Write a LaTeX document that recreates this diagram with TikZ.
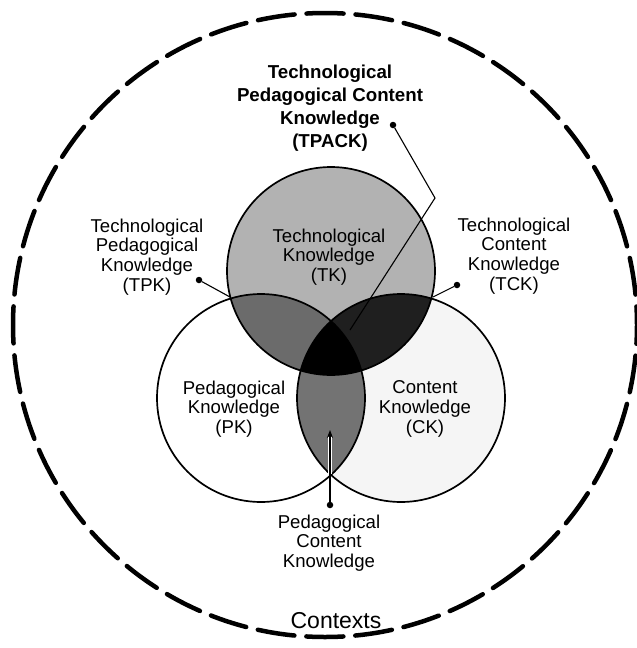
\documentclass[tikz,border=0pt]{standalone}
\usepackage{fontspec}
\setmainfont{Liberation Sans}
\usetikzlibrary{arrows.meta}
\tikzset{
  lbl/.style={align=center, inner sep=0pt, font=\fontsize{18.6}{19.8}\selectfont},
  ttl/.style={align=center, inner sep=0pt, font=\fontsize{18.7}{23}\selectfont\bfseries},
  ctx/.style={inner sep=0pt, font=\fontsize{23}{26}\selectfont},
  pin/.style={circle, fill=black, inner sep=0pt, minimum size=6.5pt},
  ring/.style={draw=black, line width=1.7pt},
  lead/.style={draw=black, line width=1.1pt},
  tkfill/.style={fill=black!30},
  ckfill/.style={fill=black!4},
  tpkfill/.style={fill=black!58},
  tckfill/.style={fill=black!88},
  pckfill/.style={fill=black!55},
}
\begin{document}
\begin{tikzpicture}[x=1pt,y=-1pt]
\useasboundingbox (0,0) rectangle (637,648);
\fill[white] (0,0) rectangle (637,648);
\coordinate (oc) at (325,325);
\coordinate (tk) at (331,271);
\coordinate (pk) at (261,398);
\coordinate (ck) at (401,398);
\def\R{104pt}
% outer contexts circle
\draw[line width=4.5pt, dash pattern=on 37pt off 12.01pt, dash phase=18.5pt, line cap=round] (oc) circle[radius=312pt];
% fills
\fill[tkfill] (tk) circle[radius=\R];
\fill[ckfill] (ck) circle[radius=\R];
\begin{scope}\clip (tk) circle[radius=\R]; \fill[tpkfill] (pk) circle[radius=\R]; \end{scope}
\begin{scope}\clip (tk) circle[radius=\R]; \fill[tckfill] (ck) circle[radius=\R]; \end{scope}
\begin{scope}\clip (pk) circle[radius=\R]; \fill[pckfill] (ck) circle[radius=\R]; \end{scope}
\begin{scope}\clip (tk) circle[radius=\R]; \clip (pk) circle[radius=\R]; \fill[black] (ck) circle[radius=\R]; \end{scope}
% outlines
\draw[ring] (tk) circle[radius=\R];
\draw[ring] (pk) circle[radius=\R];
\draw[ring] (ck) circle[radius=\R];
% labels
\node[ttl] (tpack) at (330,108) {Technological\\Pedagogical Content\\Knowledge\\(TPACK)};
\node[lbl] (tpk) at (147,257) {Technological\\Pedagogical\\Knowledge\\(TPK)};
\node[lbl] (tck) at (514,256) {Technological\\Content\\Knowledge\\(TCK)};
\node[lbl] (tkl) at (329,257) {Technological\\Knowledge\\(TK)};
\node[lbl] (pkl) at (234,409) {Pedagogical\\Knowledge\\(PK)};
\node[lbl] (ckl) at (425,409) {Content\\Knowledge\\(CK)};
\node[lbl] (pck) at (329,543) {Pedagogical\\Content\\Knowledge};
\node[ctx] (ctxl) at (336,621) {Contexts};
% pins and connectors
\node[pin] (tpackdot) at (393,125) {};
\coordinate (tpackbend) at (435,198);
\coordinate (tpackend) at (350,330);
\draw[lead] (tpackdot) -- (tpackbend) -- (tpackend);
\node[pin] (tpkdot) at (199,280) {};
\coordinate (tpkend) at (230,297);
\draw[lead] (tpkdot) -- (tpkend);
\node[pin] (tckdot) at (457,285) {};
\coordinate (tckend) at (433,297);
\draw[lead] (tckdot) -- (tckend);
\node[pin] (pckdot) at (330,505) {};
\coordinate (pcktip) at (330,430);
\draw[white, line width=3.2pt] (330,474) -- (330,436);
\draw[lead, -{Stealth[length=8pt,width=6pt]}] (pckdot) -- (pcktip);
\end{tikzpicture}
\end{document}
